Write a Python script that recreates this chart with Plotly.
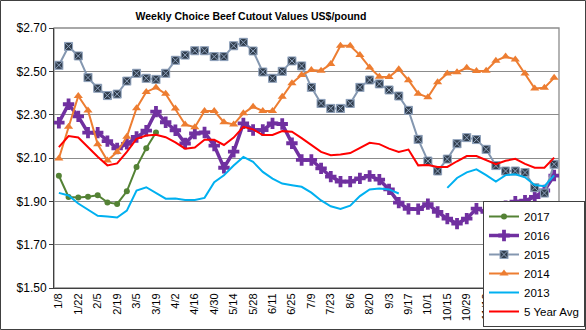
import plotly.graph_objects as go

weeks = ["1/8", "1/15", "1/22", "1/29", "2/5", "2/12", "2/19", "2/26", "3/5", "3/12",
         "3/19", "3/26", "4/2", "4/9", "4/16", "4/23", "4/30", "5/7", "5/14", "5/21",
         "5/28", "6/4", "6/11", "6/18", "6/25", "7/2", "7/9", "7/16", "7/23", "7/30",
         "8/6", "8/13", "8/20", "8/27", "9/3", "9/10", "9/17", "9/24", "10/1", "10/8",
         "10/15", "10/22", "10/29", "11/5", "11/12", "11/19", "11/26", "12/3", "12/10",
         "12/17", "12/24", "12/31"]

y2017 = [2.018, 1.920, 1.918, 1.921, 1.928, 1.895, 1.888, 1.946, 2.059, 2.145, 2.218]

y2016 = [2.263, 2.348, 2.292, 2.217, 2.217, 2.178, 2.144, 2.165, 2.197, 2.226,
         2.314, 2.265, 2.228, 2.167, 2.213, 2.218, 2.157, 2.055, 2.129, 2.260,
         2.229, 2.229, 2.260, 2.257, 2.168, 2.091, 2.091, 2.052, 2.014, 1.991,
         1.991, 2.006, 2.017, 2.000, 1.955, 1.894, 1.865, 1.864, 1.887, 1.851,
         1.820, 1.797, 1.820, 1.866, 1.851, 1.870, 1.878, 1.898, 1.903, 1.920,
         1.950, 2.019]

y2015 = [2.528, 2.615, 2.571, 2.471, 2.422, 2.388, 2.395, 2.455, 2.491, 2.468,
         2.463, 2.491, 2.551, 2.575, 2.595, 2.595, 2.568, 2.568, 2.618, 2.634,
         2.594, 2.497, 2.468, 2.500, 2.548, 2.525, 2.426, 2.352, 2.329, 2.329,
         2.352, 2.426, 2.460, 2.442, 2.414, 2.386, 2.320, 2.186, 2.086, 2.040,
         2.095, 2.166, 2.194, 2.185, 2.140, 2.065, 2.040, 2.040, 2.033, 1.963,
         1.938, 2.071]

y2014 = [2.098, 2.244, 2.386, 2.319, 2.163, 2.088, 2.128, 2.198, 2.330, 2.405,
         2.425, 2.396, 2.328, 2.255, 2.242, 2.317, 2.317, 2.265, 2.255, 2.306,
         2.337, 2.317, 2.317, 2.383, 2.445, 2.483, 2.506, 2.503, 2.534, 2.618,
         2.618, 2.575, 2.518, 2.475, 2.474, 2.510, 2.459, 2.397, 2.380, 2.450,
         2.490, 2.496, 2.516, 2.501, 2.503, 2.549, 2.568, 2.555, 2.490, 2.421,
         2.424, 2.470]

y2013 = [1.939, 1.927, 1.890, 1.860, 1.833, 1.830, 1.825, 1.857, 1.950, 1.965,
         1.937, 1.912, 1.913, 1.906, 1.906, 1.916, 1.988, 2.020, 2.065, 2.105,
         2.082, 2.036, 2.005, 1.982, 1.974, 1.967, 1.940, 1.904, 1.877, 1.865,
         1.880, 1.924, 1.955, 1.959, 1.955, 1.936, None, None, None, None,
         1.962, 2.008, 2.034, 2.048, 2.021, 1.991, 2.021, 2.025, 2.011, 1.975,
         1.970, 2.020]

y5yr = [2.150, 2.201, 2.195, 2.150, 2.106, 2.066, 2.075, 2.128, 2.188, 2.204,
        2.207, 2.196, 2.172, 2.143, 2.148, 2.184, 2.184, 2.160, 2.194, 2.244,
        2.232, 2.206, 2.206, 2.224, 2.221, 2.192, 2.158, 2.128, 2.113, 2.116,
        2.123, 2.147, 2.170, 2.164, 2.143, 2.128, 2.139, 2.066, 2.068, 2.059,
        2.059, 2.085, 2.109, 2.109, 2.090, 2.071, 2.087, 2.096, 2.073, 2.055,
        2.055, 2.102]

yticks = [1.50, 1.70, 1.90, 2.10, 2.30, 2.50, 2.70]
xtick_labels = weeks[::2]

FONT = "Arial, 'Liberation Sans', sans-serif"

fig = go.Figure()
fig.add_trace(go.Scatter(x=weeks[:len(y2017)], y=y2017, name="2017", mode="lines+markers",
                         line=dict(color="#548235", width=2),
                         marker=dict(symbol="circle", size=6, color="#548235")))
fig.add_trace(go.Scatter(x=weeks, y=y2016, name="2016", mode="lines+markers",
                         line=dict(color="#7030A0", width=3.5),
                         marker=dict(symbol="cross", size=9.5, color="#7030A0")))
fig.add_trace(go.Scatter(x=weeks, y=y2015, name="2015", mode="lines+markers",
                         line=dict(color="#8497B0", width=2),
                         marker=dict(symbol="square-x", size=8, color="#323F4F",
                                     line=dict(color="#8FA2BC", width=1))))
fig.add_trace(go.Scatter(x=weeks, y=y2014, name="2014", mode="lines+markers",
                         line=dict(color="#ED7D31", width=2),
                         marker=dict(symbol="triangle-up", size=8, color="#ED7D31")))
fig.add_trace(go.Scatter(x=weeks, y=y2013, name="2013", mode="lines",
                         line=dict(color="#00B0F0", width=2), connectgaps=False))
fig.add_trace(go.Scatter(x=weeks, y=y5yr, name="5 Year Avg", mode="lines",
                         line=dict(color="#FF0000", width=2)))

L, R, T, B = 54, 27, 28, 42
W, H = 586, 330
pw, ph = W - L - R, H - T - B

fig.update_layout(
    width=W, height=H,
    margin=dict(l=L, r=R, t=T, b=B, autoexpand=False),
    paper_bgcolor="white", plot_bgcolor="white",
    font=dict(family=FONT, color="#000000", size=12),
    title=dict(text="<b>Weekly Choice Beef Cutout Values US$/pound</b>",
               x=251 / W, xanchor="center", y=1 - 16 / H, yanchor="middle",
               font=dict(size=10.5, family=FONT, color="#000000")),
    showlegend=True,
    legend=dict(x=(483 - L) / pw, y=(H - B - 201) / ph, xanchor="left", yanchor="top",
                bgcolor="white", bordercolor="#404040", borderwidth=1,
                font=dict(size=11.5, family=FONT), traceorder="normal",
                itemwidth=30, tracegroupgap=0),
    xaxis=dict(type="category", categoryorder="array", categoryarray=weeks,
               range=[-0.5, len(weeks) - 0.5], autorange=False,
               tickmode="array", tickvals=xtick_labels, ticktext=xtick_labels,
               tickangle=-90, tickfont=dict(size=11, family=FONT),
               showgrid=False, showline=True, linecolor="#404040", linewidth=1,
               ticks="", zeroline=False),
    yaxis=dict(range=[1.5, 2.7], autorange=False, tickmode="array", tickvals=yticks,
               ticktext=["$%.2f" % v for v in yticks],
               tickfont=dict(size=12, family=FONT),
               showgrid=True, gridcolor="#8C8C8C", gridwidth=1.3,
               showline=True, linecolor="#404040", linewidth=1,
               ticks="outside", ticklen=4, tickcolor="#404040", zeroline=False),
    shapes=[
        dict(type="rect", xref="paper", yref="paper", x0=0, x1=1, y0=0, y1=1,
             line=dict(color="#8C8C8C", width=1.3), layer="below"),
        dict(type="rect", xref="paper", yref="paper",
             x0=(0.5 - L) / pw, x1=(W - 0.5 - L) / pw,
             y0=(H - B - (H - 0.5)) / ph, y1=(H - B - 0.5) / ph,
             line=dict(color="#404040", width=1), layer="above"),
    ],
)

fig.write_html("out.html")
